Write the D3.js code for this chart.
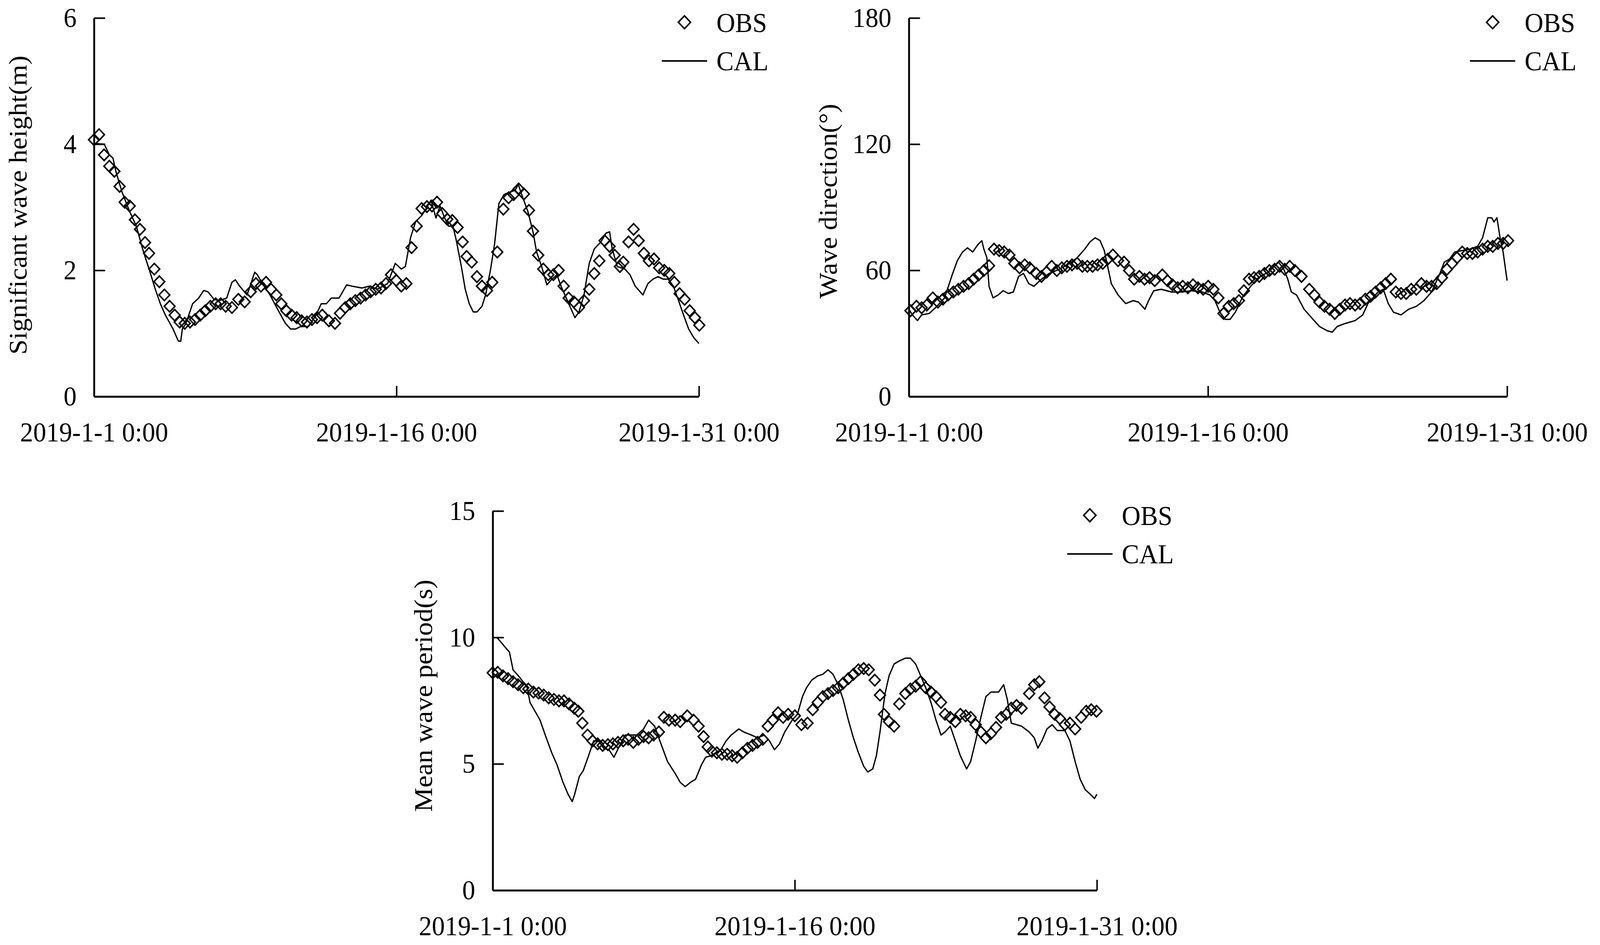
<!DOCTYPE html>
<html>
<head>
<meta charset="utf-8">
<script src="https://cdn.jsdelivr.net/npm/d3@7"></script>
<style>
  html, body { margin: 0; padding: 0; width: 100%; height: 100%; overflow: hidden; background: #fff; }
  svg { display: block; width: 100vw; height: 100vh; }
  text { font-family: "Liberation Serif", "Times New Roman", serif; fill: #000; }
</style>
</head>
<body>
<svg id="fig" viewBox="0 0 4306 2419" preserveAspectRatio="none"></svg>
<script>
// days after 2019-1-1 0:00, value
var obsHs = [[0,4.07],[0.25,4.15],[0.5,3.83],[0.76,3.65],[1.01,3.57],[1.27,3.33],[1.52,3.08],[1.77,3.02],[2.03,2.80],[2.28,2.65],[2.53,2.44],[2.73,2.27],[2.99,2.02],[3.24,1.82],[3.49,1.61],[3.75,1.43],[4.0,1.29],[4.25,1.18],[4.5,1.16],[4.76,1.18],[5.01,1.22],[5.27,1.29],[5.52,1.36],[5.77,1.43],[6.03,1.47],[6.28,1.47],[6.53,1.43],[6.84,1.41],[7.16,1.54],[7.47,1.50],[7.77,1.66],[8.03,1.79],[8.28,1.75],[8.53,1.81],[8.78,1.70],[9.04,1.61],[9.29,1.47],[9.54,1.36],[9.80,1.29],[10.05,1.25],[10.30,1.20],[10.56,1.18],[10.81,1.22],[11.06,1.25],[11.32,1.29],[11.65,1.20],[11.95,1.16],[12.2,1.32],[12.46,1.41],[12.71,1.47],[12.96,1.52],[13.22,1.56],[13.47,1.61],[13.72,1.66],[13.97,1.70],[14.23,1.72],[14.48,1.79],[14.73,1.93],[14.99,1.84],[15.24,1.75],[15.49,1.79],[15.75,2.36],[16.0,2.70],[16.25,2.98],[16.51,3.01],[16.76,3.02],[17.01,3.08],[17.27,2.90],[17.52,2.81],[17.77,2.79],[18.03,2.68],[18.28,2.45],[18.48,2.22],[18.73,2.13],[18.99,1.90],[19.24,1.75],[19.49,1.68],[19.75,1.81],[20.0,2.29],[20.30,2.97],[20.56,3.15],[20.81,3.20],[21.06,3.29],[21.32,3.21],[21.57,2.95],[21.77,2.62],[22.03,2.24],[22.28,2.02],[22.53,1.93],[22.78,1.93],[23.04,2.00],[23.29,1.75],[23.54,1.56],[23.80,1.50],[24.05,1.41],[24.30,1.52],[24.56,1.70],[24.81,1.95],[25.06,2.15],[25.32,2.47],[25.57,2.38],[25.82,2.24],[26.08,2.06],[26.25,2.13],[26.51,2.45],[26.76,2.65],[27.01,2.47],[27.27,2.27],[27.52,2.15],[27.77,2.18],[28.03,2.04],[28.28,2.00],[28.53,1.95],[28.78,1.81],[29.04,1.63],[29.29,1.54],[29.54,1.36],[29.80,1.25],[30.02,1.13]];

var calHs = [[0,4.01],[0.51,4.0],[0.76,3.83],[0.94,3.78],[1.09,3.56],[1.39,3.24],[1.77,2.93],[2.10,2.70],[2.41,2.34],[2.78,1.97],[3.04,1.70],[3.29,1.47],[3.54,1.29],[3.92,1.07],[4.18,0.88],[4.30,0.875],[4.38,1.07],[4.56,1.16],[4.89,1.47],[5.19,1.56],[5.44,1.68],[5.65,1.66],[5.95,1.54],[6.20,1.52],[6.58,1.56],[6.84,1.81],[7.01,1.85],[7.22,1.75],[7.59,1.61],[7.97,1.97],[8.10,1.93],[8.35,1.79],[8.73,1.61],[9.11,1.38],[9.49,1.16],[9.75,1.07],[10.0,1.07],[10.25,1.11],[10.63,1.11],[11.01,1.29],[11.27,1.47],[11.52,1.47],[11.77,1.56],[12.15,1.56],[12.53,1.77],[12.78,1.75],[13.29,1.72],[13.67,1.75],[14.05,1.70],[14.56,1.79],[14.94,2.11],[15.24,2.02],[15.44,2.06],[15.70,2.52],[15.95,2.77],[16.28,2.88],[16.46,2.97],[16.71,3.11],[16.96,2.83],[17.16,3.02],[17.39,2.83],[17.59,2.70],[17.8,2.70],[17.97,2.47],[18.23,2.04],[18.41,1.70],[18.61,1.47],[18.81,1.34],[18.99,1.34],[19.24,1.43],[19.42,1.61],[19.67,2.02],[19.87,2.43],[20.08,3.06],[20.33,3.20],[20.63,3.24],[20.89,3.27],[21.04,3.36],[21.27,3.15],[21.52,2.93],[21.77,2.61],[21.95,2.29],[22.2,2.06],[22.46,1.77],[22.71,1.86],[22.96,1.93],[23.16,1.75],[23.42,1.56],[23.67,1.38],[23.85,1.25],[24.05,1.34],[24.30,1.61],[24.56,2.11],[24.81,2.34],[25.14,2.45],[25.39,2.59],[25.57,2.61],[25.70,2.34],[25.95,2.06],[26.33,2.02],[26.58,1.93],[26.84,1.75],[27.22,1.61],[27.47,1.79],[27.72,1.86],[27.97,1.90],[28.23,1.86],[28.48,1.86],[28.73,1.75],[28.99,1.52],[29.24,1.29],[29.49,1.07],[29.75,0.93],[30.0,0.84]];

var obsDir = [[0.08,40.8],[0.38,42.9],[0.64,42.2],[0.9,43.5],[1.2,46.9],[1.46,44.9],[1.71,46.3],[1.97,48.3],[2.23,49.7],[2.48,51.0],[2.74,52.4],[3.0,53.7],[3.25,55.8],[3.5,57.8],[3.76,59.9],[4.02,62.2],[4.27,70.1],[4.53,69.4],[4.78,68.7],[5.04,67.3],[5.29,63.3],[5.55,61.2],[5.81,62.6],[6.06,61.2],[6.39,58.5],[6.65,57.1],[6.91,59.2],[7.16,61.9],[7.42,59.9],[7.67,61.2],[7.93,61.9],[8.18,62.6],[8.44,63.3],[8.70,61.9],[8.95,61.9],[9.21,61.9],[9.46,62.6],[9.72,63.3],[9.97,65.3],[10.23,67.3],[10.49,64.6],[10.79,63.9],[11.05,59.9],[11.3,55.8],[11.56,57.1],[11.82,55.8],[12.07,56.5],[12.33,55.1],[12.71,57.8],[12.97,55.1],[13.22,53.1],[13.48,51.7],[13.73,52.4],[13.99,51.7],[14.25,53.1],[14.5,51.7],[14.76,51.0],[15.01,52.4],[15.27,51.0],[15.52,46.9],[15.78,39.5],[16.04,42.9],[16.29,44.2],[16.55,45.6],[16.8,50.3],[17.06,55.8],[17.31,56.5],[17.57,57.1],[17.83,58.5],[18.08,59.9],[18.34,60.5],[18.59,61.9],[18.85,60.5],[19.1,61.9],[19.36,59.9],[19.69,57.1],[20.08,51.0],[20.33,48.3],[20.59,44.9],[20.84,42.9],[21.1,41.5],[21.36,39.5],[21.61,41.5],[21.87,43.5],[22.12,44.2],[22.38,43.5],[22.63,44.2],[22.89,46.3],[23.15,47.6],[23.40,49.7],[23.66,51.7],[23.91,53.7],[24.17,55.8],[24.42,49.7],[24.68,49.0],[24.94,49.0],[25.19,51.0],[25.45,51.0],[25.70,53.7],[25.96,52.4],[26.21,52.4],[26.47,53.7],[26.73,56.5],[26.98,60.5],[27.24,63.3],[27.49,66.0],[27.75,68.7],[28.0,68.0],[28.26,68.0],[28.52,68.7],[28.77,70.1],[29.03,71.4],[29.28,71.4],[29.54,72.8],[29.80,72.8],[30.05,74.1]];

var calDir = [[0,41.5],[0.18,38.8],[0.43,36.1],[0.64,38.8],[1.02,39.5],[1.41,42.9],[1.79,46.9],[2.17,57.8],[2.43,64.6],[2.69,68.7],[2.94,70.7],[3.2,68.7],[3.45,72.1],[3.66,74.1],[3.76,70.1],[3.91,66.0],[4.02,52.4],[4.22,46.9],[4.48,48.3],[4.73,50.3],[4.99,49.0],[5.24,49.7],[5.5,57.1],[5.75,58.5],[6.01,53.7],[6.27,52.4],[6.65,55.8],[7.03,58.5],[7.54,60.5],[8.06,63.3],[8.44,66.0],[8.82,70.1],[9.08,73.5],[9.34,75.5],[9.59,74.1],[9.80,69.4],[9.97,61.9],[10.15,53.7],[10.49,48.3],[10.87,44.2],[11.25,45.6],[11.51,44.9],[11.84,41.5],[12.02,45.6],[12.28,50.3],[12.66,51.0],[13.17,49.7],[13.68,49.7],[14.19,50.3],[14.71,49.7],[15.09,48.3],[15.35,45.6],[15.6,40.1],[15.86,36.7],[16.11,36.7],[16.37,40.1],[16.75,47.6],[17.14,52.4],[17.52,56.5],[18.03,59.2],[18.54,63.9],[18.8,60.5],[19.0,55.8],[19.18,49.7],[19.44,48.3],[19.82,41.5],[20.2,37.4],[20.59,33.3],[20.97,31.3],[21.23,30.6],[21.48,33.3],[21.87,34.7],[22.38,36.1],[22.76,38.8],[23.02,44.2],[23.27,46.9],[23.53,49.7],[23.79,51.0],[24.04,44.2],[24.3,40.1],[24.68,38.8],[25.06,41.5],[25.45,42.9],[25.83,45.6],[26.21,49.7],[26.6,57.8],[26.85,63.9],[27.11,65.3],[27.37,68.7],[27.75,69.4],[28.13,70.1],[28.52,71.4],[28.77,75.5],[29.03,85.0],[29.23,85.0],[29.34,83.0],[29.49,85.0],[29.67,74.1],[29.8,68.7],[30.0,55.1]];

var obsTm = [[0,8.60],[0.25,8.62],[0.51,8.48],[0.76,8.37],[1.01,8.25],[1.26,8.13],[1.52,8.01],[1.77,7.96],[2.02,7.84],[2.28,7.80],[2.53,7.72],[2.78,7.61],[3.04,7.55],[3.29,7.49],[3.54,7.49],[3.79,7.37],[4.05,7.20],[4.25,7.08],[4.45,6.61],[4.71,6.14],[4.96,5.91],[5.21,5.79],[5.46,5.73],[5.72,5.76],[5.97,5.79],[6.22,5.85],[6.48,5.91],[6.73,5.97],[6.98,5.85],[7.24,5.97],[7.49,6.08],[7.74,6.03],[7.99,6.14],[8.25,6.26],[8.50,6.84],[8.75,6.73],[9.06,6.73],[9.31,6.67],[9.66,6.90],[9.97,6.73],[10.22,6.49],[10.47,6.08],[10.68,5.67],[10.88,5.50],[11.13,5.44],[11.38,5.38],[11.64,5.38],[11.89,5.32],[12.14,5.26],[12.40,5.44],[12.65,5.62],[12.90,5.73],[13.15,5.85],[13.41,5.97],[13.66,6.49],[13.91,6.73],[14.17,7.02],[14.42,6.84],[14.67,6.96],[15.0,6.90],[15.33,6.55],[15.63,6.61],[15.89,7.14],[16.14,7.43],[16.39,7.66],[16.65,7.78],[16.9,7.90],[17.15,8.01],[17.4,8.19],[17.66,8.37],[17.91,8.54],[18.16,8.72],[18.42,8.77],[18.67,8.72],[18.97,8.31],[19.23,7.72],[19.43,6.96],[19.68,6.67],[19.93,6.49],[20.19,7.37],[20.49,7.78],[20.74,7.96],[21.0,8.07],[21.25,8.25],[21.50,8.01],[21.76,7.84],[22.01,7.66],[22.26,7.43],[22.46,6.96],[22.72,6.84],[22.97,6.67],[23.22,6.96],[23.48,6.90],[23.73,6.84],[23.98,6.55],[24.24,6.26],[24.49,6.03],[24.74,6.20],[24.99,6.44],[25.25,6.84],[25.50,6.96],[25.75,7.20],[26.01,7.31],[26.26,7.20],[26.64,7.78],[26.89,8.13],[27.14,8.25],[27.40,7.61],[27.65,7.25],[27.90,6.96],[28.16,6.79],[28.41,6.55],[28.66,6.61],[28.92,6.38],[29.22,6.84],[29.47,7.08],[29.72,7.14],[29.98,7.08]];

var calTm = [[0.2,10.0],[0.33,9.89],[0.58,9.65],[0.83,9.42],[1.01,8.72],[1.34,8.42],[1.72,8.01],[1.85,7.43],[2.10,7.08],[2.35,6.73],[2.61,6.14],[2.93,5.44],[3.19,4.97],[3.49,4.27],[3.74,3.80],[3.95,3.51],[4.07,3.80],[4.30,4.50],[4.50,4.74],[4.76,5.32],[5.01,5.91],[5.26,5.91],[5.51,5.62],[5.77,5.56],[6.02,5.26],[6.27,5.67],[6.58,6.14],[6.91,6.14],[7.16,6.14],[7.49,6.38],[7.74,6.73],[8.04,6.49],[8.30,5.91],[8.68,5.09],[9.06,4.62],[9.31,4.27],[9.56,4.10],[9.82,4.27],[10.07,4.39],[10.37,4.97],[10.57,5.26],[10.83,5.32],[11.08,5.44],[11.33,5.56],[11.59,5.91],[11.84,6.14],[12.22,6.38],[12.47,6.26],[12.85,6.14],[13.15,6.03],[13.48,6.14],[13.74,5.91],[13.99,5.56],[14.24,5.79],[14.50,6.26],[14.87,6.73],[15.13,6.96],[15.38,7.66],[15.58,8.01],[15.84,8.31],[16.14,8.48],[16.39,8.54],[16.65,8.72],[16.90,8.54],[17.15,8.13],[17.40,7.55],[17.66,6.73],[17.91,6.03],[18.16,5.44],[18.42,4.91],[18.62,4.68],[18.87,4.80],[19.05,5.32],[19.23,6.26],[19.48,7.78],[19.68,8.48],[19.93,8.95],[20.19,9.07],[20.49,9.18],[20.74,9.18],[21.0,8.95],[21.25,8.48],[21.50,8.01],[21.76,7.43],[22.01,6.73],[22.26,6.14],[22.46,6.26],[22.72,6.49],[22.97,5.91],[23.22,5.32],[23.53,4.80],[23.73,5.09],[23.98,5.91],[24.24,6.84],[24.49,7.66],[24.74,7.84],[25.12,7.84],[25.37,8.13],[25.55,7.55],[25.75,6.61],[26.26,6.49],[26.64,6.26],[26.89,6.03],[27.07,5.62],[27.27,5.91],[27.52,6.38],[27.78,6.55],[28.03,6.32],[28.41,6.32],[28.66,5.91],[28.92,5.09],[29.17,4.39],[29.42,3.98],[29.67,3.80],[29.88,3.63],[30.0,3.80]];

var xTickDays = [0, 15, 30];
var yTicksHs = [0, 2, 4, 6];
var yTicksDir = [0, 60, 120, 180];
var yTicksTm = [0, 5, 10, 15];
var titles = ["Significant wave height(m)", "Wave direction(°)", "Mean wave period(s)"];
var legendNames = ["OBS", "CAL"];

var t0 = Date.UTC(2019, 0, 1);
function toDate(day) { return new Date(t0 + day * 86400000); }
var fmt = d3.utcFormat("%Y-%-m-%-d %-H:%M");

var svg = d3.select("#fig");
svg.append("rect").attr("width", 4306).attr("height", 2419).attr("fill", "#fff");

var panels = [
  {left: 253, right: 1881, top: 46, bottom: 1015, ticks: yTicksHs, obs: obsHs, cal: calHs, title: titles[0], titleX: 71, titleY: 525, legDx: 0},
  {left: 2446, right: 4056, top: 46, bottom: 1015, ticks: yTicksDir, obs: obsDir, cal: calDir, title: titles[1], titleX: 2252, titleY: 515, legDx: 0},
  {left: 1326, right: 2952, top: 1308, bottom: 2279, ticks: yTicksTm, obs: obsTm, cal: calTm, title: titles[2], titleX: 1163, titleY: 1781, legDx: 20}
];

panels.forEach(function(p) {
  var x = d3.scaleUtc().domain([toDate(0), toDate(30)]).range([p.left, p.right]);
  var y = d3.scaleLinear().domain([0, p.ticks[p.ticks.length - 1]]).range([p.bottom, p.top]);
  var g = svg.append("g");

  // CAL line
  var line = d3.line().x(function(d) { return x(toDate(d[0])); }).y(function(d) { return y(d[1]); });
  g.append("path").datum(p.cal).attr("d", line)
    .attr("fill", "none").attr("stroke", "#000").attr("stroke-width", 3.5).attr("stroke-linejoin", "round");

  // OBS diamonds
  var sym = d3.symbol().type(d3.symbolSquare).size(420);
  g.selectAll("path.obs").data(p.obs).enter().append("path").attr("class", "obs")
    .attr("d", sym)
    .attr("transform", function(d) { return "translate(" + x(toDate(d[0])) + "," + y(d[1]) + ") rotate(45)"; })
    .attr("fill", "none").attr("stroke", "#000").attr("stroke-width", 4);

  // axes
  var yAxis = d3.axisLeft(y).tickValues(p.ticks).tickFormat(d3.format("d"))
    .tickSizeInner(-30).tickSizeOuter(0).tickPadding(47);
  var ya = g.append("g").attr("transform", "translate(" + p.left + ",0)").call(yAxis);
  var xAxis = d3.axisBottom(x).tickValues(xTickDays.map(toDate)).tickFormat(fmt)
    .tickSizeInner(-27).tickSizeOuter(0).tickPadding(65);
  var xa = g.append("g").attr("transform", "translate(0," + p.bottom + ")").call(xAxis);
  [ya, xa].forEach(function(a) {
    a.select(".domain").attr("stroke-width", 5);
    a.selectAll(".tick line").attr("stroke-width", 4);
    a.selectAll("text").attr("font-size", 70).attr("font-family", "Liberation Serif");
  });

  // y title
  g.append("text").attr("transform", "translate(" + p.titleX + "," + p.titleY + ") rotate(-90)")
    .attr("text-anchor", "middle").attr("font-size", 70).text(p.title);

  // legend
  var lx = p.right + p.legDx, ty = p.top;
  g.append("path").attr("d", d3.symbol().type(d3.symbolSquare).size(545))
    .attr("transform", "translate(" + (lx - 39) + "," + (ty + 11) + ") rotate(45)")
    .attr("fill", "none").attr("stroke", "#000").attr("stroke-width", 4);
  g.append("text").attr("x", lx + 47).attr("y", ty + 36).attr("font-size", 70).text(legendNames[0]);
  g.append("line").attr("x1", lx - 100).attr("x2", lx + 22).attr("y1", ty + 110).attr("y2", ty + 110)
    .attr("stroke", "#000").attr("stroke-width", 4);
  g.append("text").attr("x", lx + 47).attr("y", ty + 134).attr("font-size", 70).text(legendNames[1]);
});
</script>
</body>
</html>
